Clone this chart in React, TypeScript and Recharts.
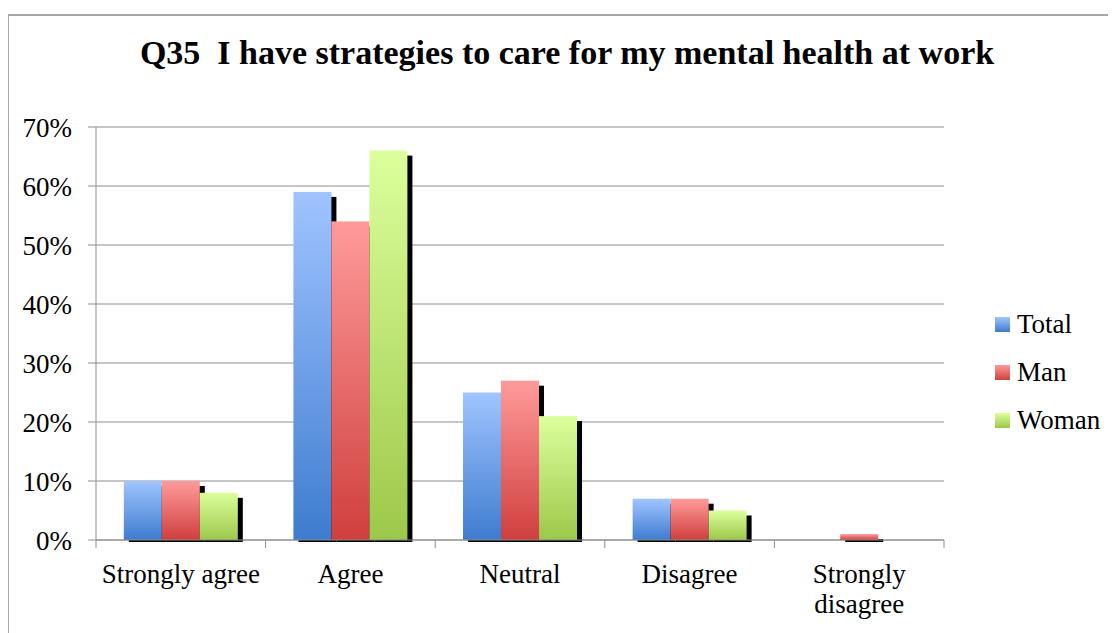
import { BarChart, Bar, XAxis, YAxis, CartesianGrid } from 'recharts';

const categories = ['Strongly agree', 'Agree', 'Neutral', 'Disagree', 'Strongly disagree'];
const totalValues = [10, 59, 25, 7, 0];
const manValues = [10, 54, 27, 7, 1];
const womanValues = [8, 66, 21, 5, 0];
const yTicks = [0, 10, 20, 30, 40, 50, 60, 70];

const series = [
  { key: 'Total', top: '#a0c4ff', bottom: '#3e7ccf' },
  { key: 'Man', top: '#ff9a9a', bottom: '#cf3f3d' },
  { key: 'Woman', top: '#dcff9c', bottom: '#9cc84a' },
];

const data = categories.map((name, i) => ({
  name,
  Total: totalValues[i],
  Man: manValues[i],
  Woman: womanValues[i],
}));

const FONT = '"Liberation Serif", serif';
const GRID = '#8e8e8e';

// bar with a hard black drop shadow, like the old Excel style
function makeShape(key: string, top: string, bottom: string) {
  return (props: any) => {
    const { x, y, width, height, index } = props;
    if (!height || height <= 0) return <g />;
    const id = `grad-${key}-${index}`;
    return (
      <g>
        <defs>
          <linearGradient id={id} x1="0" y1="0" x2="0" y2="1">
            <stop offset="0%" stopColor={top} />
            <stop offset="100%" stopColor={bottom} />
          </linearGradient>
        </defs>
        <rect x={x + 5} y={y + 5} width={width} height={Math.max(height - 3, 0)} fill="#000" />
        <rect x={x} y={y} width={width} height={height} fill={`url(#${id})`} />
      </g>
    );
  };
}

function CategoryTick(props: any) {
  const { x, y, payload, index } = props;
  const band = 848 / categories.length;
  const words = String(payload.value) === 'Strongly disagree' ? ['Strongly', 'disagree'] : [String(payload.value)];
  return (
    <g>
      {index === 0 && <line x1={x - band / 2} y1={y - 8} x2={x - band / 2} y2={y} stroke={GRID} />}
      <line x1={x + band / 2} y1={y - 8} x2={x + band / 2} y2={y} stroke={GRID} />
      <text x={x} y={y + 35} textAnchor="middle" fontFamily={FONT} fontSize={27} fill="#000">
        {words.map((w, i) => (
          <tspan key={i} x={x} dy={i === 0 ? 0 : 30}>
            {w}
          </tspan>
        ))}
      </text>
    </g>
  );
}

export default function App() {
  return (
    <div style={{ position: 'relative', width: 1108, height: 625 }}>
      <div
        style={{
          position: 'absolute',
          left: -1,
          top: 6,
          width: 1120,
          height: 640,
          borderLeft: '2px solid #a6a6a6',
          borderTop: '2px solid #a6a6a6',
        }}
      />
      <div
        style={{
          position: 'absolute',
          left: 0,
          top: 25,
          width: 1118,
          textAlign: 'center',
          fontFamily: FONT,
          fontWeight: 'bold',
          fontSize: 34,
          lineHeight: '40px',
          whiteSpace: 'pre',
        }}
      >
        {'Q35  I have strategies to care for my mental health at work'}
      </div>
      <BarChart
        width={1108}
        height={625}
        data={data}
        margin={{ top: 119, right: 172, left: 28, bottom: 33 }}
        barCategoryGap="16.4%"
        barGap={0}
        style={{ position: 'absolute', left: 0, top: 0 }}
      >
        <CartesianGrid vertical={false} stroke={GRID} />
        <XAxis
          dataKey="name"
          height={60}
          stroke={GRID}
          tickLine={false}
          interval={0}
          tick={<CategoryTick />}
        />
        <YAxis
          width={60}
          domain={[0, 70]}
          ticks={yTicks}
          stroke={GRID}
          tickSize={8}
          tickMargin={16}
          tickFormatter={(v) => `${v}%`}
          tick={{ fontFamily: FONT, fontSize: 27, fill: '#000' }}
        />
        {series.map((s) => (
          <Bar
            key={s.key}
            dataKey={s.key}
            isAnimationActive={false}
            fill={s.bottom}
            shape={makeShape(s.key, s.top, s.bottom)}
          />
        ))}
      </BarChart>
      <div
        style={{
          position: 'absolute',
          left: 987,
          top: 292,
          fontFamily: FONT,
          fontSize: 27,
          color: '#000',
        }}
      >
        {series.map((s) => (
          <div key={s.key} style={{ display: 'flex', alignItems: 'center', height: 48 }}>
            <span
              style={{
                width: 15,
                height: 15,
                marginRight: 7,
                background: `linear-gradient(${s.top}, ${s.bottom})`,
                display: 'inline-block',
              }}
            />
            {s.key}
          </div>
        ))}
      </div>
    </div>
  );
}
